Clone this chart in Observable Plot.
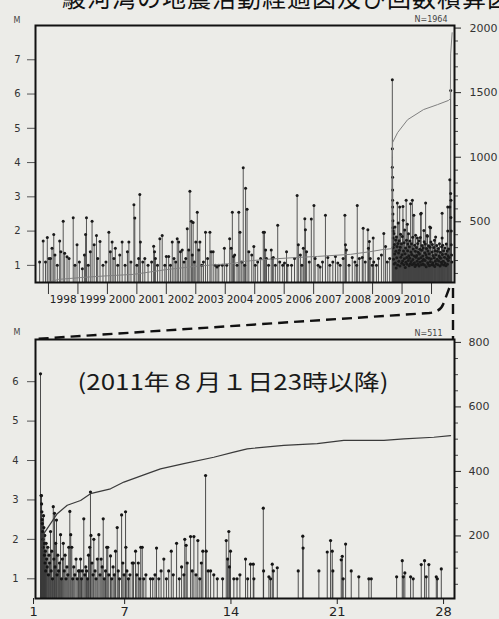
<!DOCTYPE html>
<html><head><meta charset="utf-8">
<script src="https://cdn.jsdelivr.net/npm/d3@7"></script>
<script src="https://cdn.jsdelivr.net/npm/@observablehq/plot@0.6"></script>
<style>
body{margin:0;background:#ecece8;}
#wrap{position:relative;width:499px;height:619px;overflow:hidden;font-family:"DejaVu Sans",sans-serif;}
#top,#bot,#ov{position:absolute;left:0;}
#top{top:0}#bot{top:310px}#ov{top:0;pointer-events:none}
#title{position:absolute;top:-15px;left:62px;font:24px/24px "Noto Sans CJK JP";white-space:nowrap;letter-spacing:1px;color:#111}
</style></head><body><div id="wrap"><div id="title">駿河湾の地震活動経過図及び回数積算図</div><div id="top"></div><div id="bot"></div></div>
<script>
// ---------- DATA (top panel: decimal year, magnitude) ----------
const yearTicks = [1998,1999,2000,2001,2002,2003,2004,2005,2006,2007,2008,2009,2010,2011];
const yearLabels = ["1998","1999","2000","2001","2002","2003","2004","2005","2006","2007","2008","2009","2010"];
const topMTicks = [1,2,3,4,5,6,7];
const topCountTicks = [500,1000,1500,2000];
const topCountMinor = [100,200,300,400,600,700,800,900,1100,1200,1300,1400,1600,1700,1800,1900];

const events1997_2004 = [
[1997.70,1.1],[1997.82,1.71],[1997.90,1.1],[1997.96,1.81],[1998.02,1.2],[1998.07,1.2],[1998.12,1.5],[1998.18,1.9],[1998.22,1.3],[1998.30,1.0],
[1998.38,1.71],[1998.42,1.4],[1998.50,2.29],[1998.55,1.35],[1998.63,1.25],[1998.70,1.2],[1998.84,2.39],[1998.90,1.0],[1998.97,1.6],[1999.05,1.1],
[1999.15,0.9],[1999.22,1.3],[1999.26,1.9],[1999.29,2.39],[1999.35,1.0],[1999.42,1.4],[1999.48,2.29],[1999.55,1.6],[1999.63,1.87],[1999.67,1.2],
[1999.75,1.7],[1999.85,1.0],[1999.95,1.1],[2000.05,1.97],[2000.10,1.4],[2000.16,1.68],[2000.22,1.2],[2000.27,1.5],[2000.35,1.0],[2000.42,1.3],
[2000.50,1.68],[2000.60,1.0],[2000.68,1.4],[2000.73,1.68],[2000.80,1.1],[2000.90,2.77],[2000.93,2.38],[2001.00,1.0],[2001.06,1.2],[2001.10,3.07],
[2001.12,1.68],[2001.20,1.1],[2001.27,1.2],[2001.38,1.0],[2001.50,1.1],[2001.57,1.56],[2001.60,1.4],[2001.63,1.2],[2001.70,1.0],[2001.78,1.78],
[2001.86,1.87],[2001.95,1.0],[2002.00,1.26],[2002.08,1.26],[2002.14,1.0],[2002.20,1.68],[2002.26,1.2],[2002.32,1.1],[2002.37,1.78],[2002.42,1.68],
[2002.48,1.4],[2002.54,1.45],[2002.60,1.1],[2002.66,1.2],[2002.71,2.07],[2002.76,1.45],[2002.80,3.16],[2002.85,2.29],[2002.88,1.3],[2002.91,2.25],
[2002.95,1.1],[2003.00,1.68],[2003.05,2.55],[2003.10,1.45],[2003.14,1.68],[2003.20,1.0],[2003.26,1.1],[2003.33,1.97],[2003.40,1.2],[2003.48,1.97],
[2003.52,1.4],[2003.59,1.4],[2003.66,1.0],[2003.72,0.95],[2003.78,1.0],[2003.90,1.0],[2003.97,1.5],[2004.05,1.0],[2004.15,1.78],[2004.20,1.5],
[2004.24,2.55],[2004.28,1.26],[2004.32,1.3],[2004.40,1.0],[2004.46,2.55],[2004.50,1.97],[2004.56,1.1],[2004.61,3.85],[2004.66,1.0],[2004.69,3.25],
[2004.74,2.64],[2004.80,1.4]
];
const events2005_2009 = [
[2004.90,1.3],[2004.97,1.55],[2005.02,1.0],[2005.10,1.1],[2005.20,1.2],[2005.29,1.97],[2005.33,1.97],[2005.37,1.45],[2005.40,1.2],[2005.47,1.0],
[2005.56,1.45],[2005.60,1.2],[2005.63,1.23],[2005.70,1.0],[2005.78,2.17],[2005.85,1.1],[2005.95,1.0],[2006.01,1.07],[2006.08,1.4],[2006.12,1.0],
[2006.25,1.0],[2006.35,1.2],[2006.44,3.04],[2006.48,1.6],[2006.55,1.3],[2006.60,1.0],[2006.65,1.5],[2006.70,2.36],[2006.72,2.04],[2006.76,1.4],
[2006.85,1.1],[2006.92,2.35],[2007.01,2.75],[2007.05,1.2],[2007.15,1.0],[2007.22,0.95],[2007.30,1.1],[2007.40,2.46],[2007.48,1.23],[2007.55,1.0],
[2007.65,1.1],[2007.74,1.26],[2007.82,1.07],[2007.90,1.0],[2008.00,1.2],[2008.06,2.46],[2008.08,1.6],[2008.11,1.45],[2008.20,1.0],[2008.31,1.23],
[2008.40,1.1],[2008.46,1.0],[2008.48,2.75],[2008.55,1.2],[2008.65,1.23],[2008.68,2.08],[2008.75,1.1],[2008.84,2.04],[2008.86,1.5],[2008.89,1.7],
[2008.92,1.2],[2008.99,1.0],[2009.02,1.8],[2009.04,1.1],[2009.13,1.0],[2009.20,1.2],[2009.30,1.3],[2009.38,1.93],[2009.44,1.55],[2009.50,1.1],[2009.58,1.2]
];
const events2009Aug = [
[2009.67,6.42],[2009.67,4.4],[2009.67,3.86],[2009.68,3.57],[2009.68,3.2],[2009.68,2.9],[2009.68,2.7],[2009.69,2.5],[2009.69,2.3],[2009.69,2.1],
[2009.70,2.0],[2009.70,1.8],[2009.84,2.82],[2009.92,2.7],[2010.03,2.72],[2010.04,2.32],[2010.14,2.9],[2010.18,2.2],[2010.29,2.8],[2010.35,2.9],
[2010.40,2.46],[2010.52,1.8],[2010.63,2.5],[2010.65,2.52],[2010.74,2.02],[2010.80,2.82],[2010.86,1.85],[2010.94,2.12],[2010.97,2.1],[2011.14,1.83],
[2011.28,1.23],[2011.36,2.52],[2011.36,1.8],[2011.55,2.7],[2011.55,2.0],[2011.62,3.5],[2011.62,2.7]
];
const swarm2009_2011 = [
[2009.70,1.52],[2009.71,1.18],[2009.72,1.93],[2009.73,1.04],[2009.74,1.61],[2009.75,1.33],[2009.76,2.12],[2009.77,1.07],[2009.78,1.74],[2009.79,1.41],
[2009.80,0.92],[2009.81,1.83],[2009.82,1.22],[2009.83,1.55],[2009.85,1.01],[2009.86,1.64],[2009.87,2.24],[2009.88,1.36],[2009.89,1.12],[2009.90,1.72],
[2009.91,1.44],[2009.93,0.98],[2009.94,1.53],[2009.95,1.91],[2009.96,1.24],[2009.98,1.63],[2009.99,1.06],[2010.00,1.31],[2010.01,1.84],[2010.02,1.13],
[2010.05,1.42],[2010.06,1.02],[2010.07,1.66],[2010.08,1.19],[2010.09,2.03],[2010.10,1.34],[2010.11,0.94],[2010.12,1.51],[2010.13,1.09],[2010.15,1.73],
[2010.16,1.23],[2010.17,1.03],[2010.19,1.43],[2010.20,1.62],[2010.21,1.14],[2010.22,1.92],[2010.23,1.28],[2010.24,0.99],[2010.25,1.54],[2010.26,1.21],
[2010.27,1.71],[2010.28,1.05],[2010.30,1.39],[2010.31,1.11],[2010.32,1.63],[2010.33,1.32],[2010.34,1.02],[2010.36,1.82],[2010.37,1.17],[2010.38,1.48],
[2010.39,1.04],[2010.41,1.27],[2010.42,1.08],[2010.43,1.59],[2010.44,0.97],[2010.45,1.41],[2010.46,1.88],[2010.47,1.24],[2010.48,1.01],[2010.49,1.52],
[2010.50,1.29],[2010.51,1.12],[2010.53,1.64],[2010.54,1.03],[2010.55,1.38],[2010.56,1.19],[2010.57,1.72],[2010.58,0.98],[2010.59,1.33],[2010.60,1.47],
[2010.61,1.09],[2010.62,1.81],[2010.64,1.22],[2010.66,1.02],[2010.67,1.44],[2010.68,1.58],[2010.69,1.13],[2010.70,1.27],[2010.71,1.04],[2010.72,1.51],
[2010.73,1.18],[2010.75,1.69],[2010.76,1.01],[2010.77,1.37],[2010.78,1.14],[2010.79,1.62],[2010.81,1.31],[2010.82,0.96],[2010.83,1.49],[2010.84,1.23],
[2010.85,1.87],[2010.87,1.08],[2010.88,1.42],[2010.89,1.03],[2010.90,1.57],[2010.91,1.21],[2010.92,1.34],[2010.93,0.99],[2010.95,1.53],[2010.96,1.11],
[2010.98,1.68],[2010.99,1.19],[2011.00,1.02],[2011.02,1.39],[2011.03,1.61],[2011.04,1.08],[2011.05,1.29],[2011.06,1.01],[2011.08,1.52],[2011.09,1.22],
[2011.10,1.73],[2011.11,0.97],[2011.12,1.43],[2011.13,1.12],[2011.15,1.31],[2011.16,1.04],[2011.18,1.58],[2011.19,1.18],[2011.20,1.41],[2011.22,1.02],
[2011.23,1.49],[2011.24,1.13],[2011.26,1.27],[2011.27,1.63],[2011.29,0.98],[2011.30,1.38],[2011.31,1.21],[2011.33,1.09],[2011.34,1.54],[2011.35,1.03],
[2011.37,1.32],[2011.38,1.59],[2011.40,1.12],[2011.41,1.43],[2011.42,1.01],[2011.44,1.24],[2011.45,1.51],[2011.46,1.07],[2011.48,1.33],[2011.49,0.99],
[2011.50,1.62],[2011.52,1.19],[2011.53,1.42],[2011.54,1.03],[2011.56,1.28],[2011.57,1.14],[2011.58,1.48],[2011.60,1.23]
];
const events2011Aug = [
[2011.65,6.1],[2011.65,3.1],[2011.66,2.9],[2011.66,2.4],[2011.67,2.0],[2011.67,1.6],[2011.68,1.3],[2011.69,1.1]
];
const topCumulative = [
[1997.56,0],[1997.9,25],[1998.34,54],[1999.2,70],[2000.0,82],[2000.89,93],[2002.0,130],[2003.06,157],[2004.28,178],[2004.7,195],
[2005.37,209],[2006.3,222],[2007.13,232],[2008.25,248],[2008.9,268],[2009.37,286],[2009.66,292],[2009.67,1000],[2009.68,1114],[2009.85,1191],
[2010.19,1291],[2010.73,1369],[2011.2,1407],[2011.58,1440],[2011.64,1454],[2011.65,1800],[2011.7,1964]
];

// ---------- DATA (bottom panel: day of August 2011, magnitude) ----------
const dayTicks = [1,7,14,21,28];
const botMTicks = [1,2,3,4,5,6];
const botCountTicks = [200,400,600,800];
const botCountMinor = [50,100,150,250,300,350,450,500,550,650,700,750];
const augEvents = [
[1.46,6.2],[1.50,3.11],[1.52,3.11],[1.53,2.9],[1.55,2.7],[1.57,2.5],[1.58,2.4],[1.60,2.2],[1.62,2.0],[1.64,1.8],
[1.66,2.6],[1.68,2.3],[1.70,1.9],[1.72,1.6],[1.74,2.1],[1.76,1.4],[1.78,1.7],[1.80,1.2],[1.83,1.9],[1.86,1.5],
[1.90,1.3],[1.94,1.8],[1.98,1.1],[2.02,1.6],[2.06,1.4],[2.12,2.2],[2.16,1.2],[2.20,1.7],[2.25,1.0],[2.30,2.83],
[2.34,1.5],[2.38,2.66],[2.42,1.3],[2.46,1.9],[2.51,2.49],[2.55,1.1],[2.60,1.6],[2.65,1.2],[2.71,1.4],[2.78,2.12],
[2.84,1.0],[2.90,1.5],[2.96,1.9],[3.02,1.2],[3.08,1.6],[3.14,1.0],[3.20,1.3],[3.26,1.1],[3.32,1.8],[3.39,2.71],
[3.45,2.12],[3.52,1.8],[3.58,1.0],[3.65,1.3],[3.72,1.1],[3.80,1.5],[3.88,1.0],[3.96,1.2],[4.02,1.2],[4.10,1.5],
[4.16,1.0],[4.21,1.2],[4.31,2.52],[4.38,1.1],[4.44,1.3],[4.49,1.2],[4.56,1.0],[4.62,1.6],[4.70,1.8],[4.75,3.2],
[4.78,2.1],[4.85,1.4],[4.92,1.1],[4.97,2.0],[5.05,1.2],[5.12,1.0],[5.20,1.5],[5.30,2.12],[5.38,1.1],[5.45,1.5],
[5.52,1.3],[5.59,2.52],[5.66,1.0],[5.74,1.2],[5.82,1.8],[5.89,1.8],[5.96,1.1],[6.07,1.58],[6.15,1.0],[6.24,1.3],
[6.32,1.1],[6.40,1.7],[6.51,2.3],[6.58,1.2],[6.66,1.0],[6.80,2.62],[6.88,1.4],[6.96,1.1],[7.06,2.7],[7.08,1.8],
[7.15,1.2],[7.25,1.0],[7.35,1.1],[7.50,1.4],[7.58,1.4],[7.72,1.7],[7.80,1.1],[7.90,1.4],[8.00,1.0],[8.06,1.8],
[8.16,1.8],[8.26,1.0],[8.40,1.1],[8.70,1.0],[8.85,1.0],[9.00,1.1],[9.10,1.78],[9.25,1.0],[9.40,1.2],[9.58,1.5],
[9.75,1.0],[9.90,1.2],[10.07,1.7],[10.20,1.1],[10.42,1.9],[10.60,1.0],[10.75,1.3],[10.90,1.1],[10.96,2.0],[11.05,1.85],
[11.12,1.4],[11.34,2.07],[11.45,1.2],[11.56,2.07],[11.70,1.1],[11.82,1.97],[11.95,1.0],[12.05,1.4],[12.15,1.7],[12.33,3.62],
[12.37,1.7],[12.50,1.2],[12.66,1.2],[12.87,1.1],[13.10,1.0],[13.45,1.0],[13.69,1.97],[13.78,1.5],[13.86,2.2],[13.90,1.3],
[13.97,1.7],[14.19,1.0],[14.40,1.0],[14.59,1.1],[14.96,1.5],[15.10,1.0],[15.29,1.37],[15.47,1.37],[15.51,1.0],[16.13,2.79],
[16.15,1.2],[16.50,1.05],[16.61,1.0],[16.72,1.37],[16.79,1.2],[17.05,1.28],[18.43,1.2],[18.73,2.08],[18.75,1.78],[19.79,1.2],
[20.34,1.68],[20.56,1.97],[20.67,1.7],[20.71,1.2],[21.26,1.48],[21.33,1.57],[21.39,1.0],[21.55,1.88],[21.92,1.2],[22.42,1.05],
[23.08,1.0],[23.24,1.0],[24.91,1.05],[25.28,1.46],[25.35,1.05],[25.45,1.15],[25.83,1.05],[26.00,1.0],[26.53,1.36],[26.75,1.46],
[26.86,1.05],[27.03,1.36],[27.52,1.05],[27.59,1.0],[27.85,1.25]
];
const augCumulative = [
[1.46,0],[1.50,120],[1.60,180],[1.68,207],[2.12,238],[2.56,269],[3.22,295],[4.10,310],[4.75,331],[6.07,346],
[6.95,367],[8.49,393],[9.36,408],[10.90,424],[12.87,444],[14.19,460],[15.07,470],[17.48,481],[19.68,486],[21.43,496],
[24.07,496],[25.39,501],[27.36,506],[28.46,511]
];
const topNote = "N=1964", botNote = "N=511";
const periodLabel = "(2011年８月１日23時以降)";

// ---------- SCALES ----------
const topX = [1997.56, 2011.78], topM = [0.5, 8], topCount = [30, 2020];
const botX = [1.13, 28.72], botM = [0.5, 7.07], botCount = [6, 809];
const lin = (d0, r0) => v => r0[0] + (v - d0[0]) / (d0[1] - d0[0]) * (r0[1] - r0[0]);
const topC2M = lin(topCount, topM), topM2C = lin(topM, topCount);
const botC2M = lin(botCount, botM), botM2C = lin(botM, botCount);
const toObj = a => a.map(([t, m]) => ({t, m}));
const topEvents = toObj([...events1997_2004, ...events2005_2009, ...events2009Aug, ...swarm2009_2011, ...events2011Aug]);
const botEvents = toObj(augEvents);
const noLabel = () => "";
const intLabel = d => String(Math.round(d));

const topPlot = Plot.plot({
  width: 499, height: 310, marginLeft: 35, marginRight: 45, marginTop: 25, marginBottom: 28,
  style: {background: "transparent", fontFamily: "DejaVu Sans", color: "#333", overflow: "visible"},
  x: {domain: topX}, y: {domain: topM},
  marks: [
    Plot.ruleX(topEvents, {x: "t", y1: 0.5, y2: "m", stroke: "#444", strokeWidth: 0.9}),
    Plot.dot(topEvents, {x: "t", y: "m", r: 1.5, fill: "#1a1a1a", stroke: "none"}),
    Plot.line(topCumulative, {x: d => d[0], y: d => topC2M(d[1]), stroke: "#808080", strokeWidth: 1, clip: true}),
    Plot.axisY({anchor: "left", ticks: topMTicks, tickFormat: intLabel, tickSize: 8, tickPadding: 7, label: null, fontSize: 10, stroke: "#555"}),
    Plot.axisY({anchor: "right", ticks: topCountTicks.map(topC2M), tickFormat: d => String(Math.round(topM2C(d))), tickSize: 6, tickPadding: 9, label: null, fontSize: 11, stroke: "#222"}),
    Plot.axisY({anchor: "right", ticks: topCountMinor.map(topC2M), tickFormat: noLabel, tickSize: 3, label: null, stroke: "#444"}),
    Plot.axisX({ticks: yearTicks, tickSize: 12, tickFormat: noLabel, label: null, stroke: "#333"}),
    Plot.axisX({ticks: yearLabels.map(y => +y + 0.5), tickSize: 0, tickPadding: 13, tickFormat: d => String(Math.floor(d)), label: null, fontSize: 10.5, fill: "#222"}),
    Plot.text(["M"], {frameAnchor: "top-left", dx: -22, dy: -8, text: d => d, fontSize: 8, fill: "#444"}),
    Plot.text([topNote], {frameAnchor: "top-right", dx: -7, dy: -9, text: d => d, textAnchor: "end", fontSize: 8, fill: "#444"}),
    Plot.frame({stroke: "#111", strokeWidth: 2})
  ]
});

const botPlot = Plot.plot({
  width: 499, height: 309, marginLeft: 35, marginRight: 45, marginTop: 29, marginBottom: 21,
  style: {background: "transparent", fontFamily: "DejaVu Sans", color: "#333", overflow: "visible"},
  x: {domain: botX}, y: {domain: botM},
  marks: [
    Plot.ruleX(botEvents, {x: "t", y1: 0.5, y2: "m", stroke: "#3a3a3a", strokeWidth: 0.9}),
    Plot.dot(botEvents, {x: "t", y: "m", r: 1.6, fill: "#151515", stroke: "none"}),
    Plot.line(augCumulative, {x: d => d[0], y: d => botC2M(d[1]), stroke: "#3a3a3a", strokeWidth: 1.2, clip: true}),
    Plot.axisY({anchor: "left", ticks: botMTicks, tickFormat: intLabel, tickSize: 8, tickPadding: 9, label: null, fontSize: 10, stroke: "#555"}),
    Plot.axisY({anchor: "right", ticks: botCountTicks.map(botC2M), tickFormat: d => String(Math.round(botM2C(d))), tickSize: 6, tickPadding: 8, label: null, fontSize: 11, stroke: "#222"}),
    Plot.axisY({anchor: "right", ticks: botCountMinor.map(botC2M), tickFormat: noLabel, tickSize: 3, label: null, stroke: "#444"}),
    Plot.axisX({ticks: dayTicks, tickFormat: intLabel, tickSize: 6, tickPadding: 2, label: null, fontSize: 13, fill: "#222", stroke: "#222"}),
    Plot.text(["M"], {frameAnchor: "top-left", dx: -22, dy: -10, text: d => d, fontSize: 8, fill: "#444"}),
    Plot.text([botNote], {frameAnchor: "top-right", dx: -12, dy: -9, text: d => d, textAnchor: "end", fontSize: 8, fill: "#444"}),
    Plot.text([periodLabel], {frameAnchor: "top-left", dx: 42, dy: 43, text: d => d, textAnchor: "start", lineAnchor: "middle", fontSize: 22, fontFamily: "Noto Sans CJK JP", fill: "#1a1a1a"}),
    Plot.frame({stroke: "#111", strokeWidth: 2})
  ]
});

document.getElementById("top").append(topPlot);
document.getElementById("bot").append(botPlot);
d3.select(botPlot).selectAll("text").filter(function(){ return this.textContent === periodLabel; })
  .attr("textLength", 311).attr("lengthAdjust", "spacingAndGlyphs");

// ---------- zoom connector (dashed), positioned from the scales ----------
const tx = topPlot.scale("x"), ty = topPlot.scale("y");
const bx = botPlot.scale("x"), by = botPlot.scale("y");
const botOffset = 310;
const x0 = tx.apply(2011.62), yB = ty.apply(topM[0]);
const xl = bx.apply(botX[0]), yT = by.apply(botM[1]) + botOffset;
const xr = tx.apply(topX[1]) - 1;
const ov = d3.select("#wrap").append("svg").attr("id", "ov").attr("width", 499).attr("height", 619);
ov.append("path")
  .attr("d", `M${x0},${yB + 6} L${x0 - 6},${yB + 22} Q${x0 - 9},${yB + 30} ${x0 - 20},${yB + 31} L${xl},${yT}`)
  .attr("fill", "none").attr("stroke", "#111").attr("stroke-width", 2.4).attr("stroke-dasharray", "10,6");
ov.append("line").attr("x1", xr).attr("x2", xr).attr("y1", yB + 6).attr("y2", yT)
  .attr("stroke", "#111").attr("stroke-width", 2.4).attr("stroke-dasharray", "10,6");
</script></body></html>
